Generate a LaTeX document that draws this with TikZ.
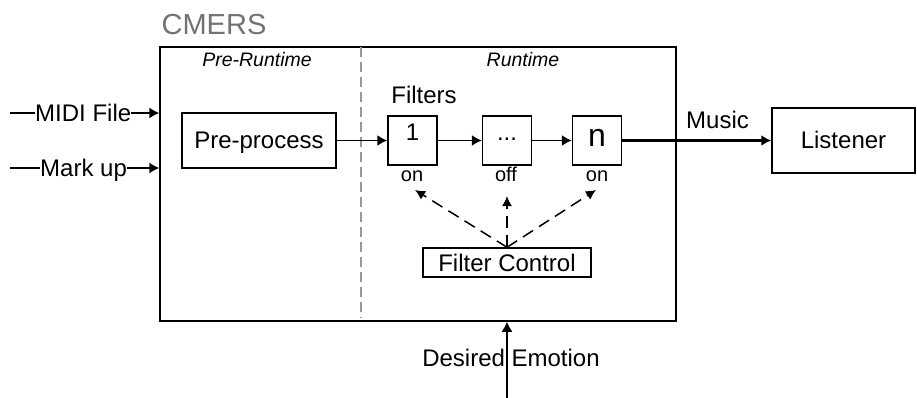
\documentclass[tikz,border=0pt]{standalone}
\usepackage{fontspec}
\setmainfont{Liberation Sans}
\usetikzlibrary{arrows.meta}

\begin{document}
\begin{tikzpicture}
            [x=1pt, y=-1pt,
              box/.style={draw, line width=1.5pt, inner sep=0pt,
                text height=17pt, text depth=0pt,
                font=\fontsize{24}{28}\selectfont},
              fbox/.style={box, minimum width=49pt, minimum height=49pt},
              lbl/.style={inner sep=0pt, text height=17pt, text depth=0pt,
                font=\fontsize{24}{28}\selectfont},
              sml/.style={inner sep=0pt, anchor=base,
                font=\fontsize{20}{24}\selectfont},
              phase/.style={inner sep=0pt, font=\fontsize{19.5}{23}\selectfont\itshape},
              ->/.style={line width=1.5pt, arrows={-{Latex[length=10pt,width=11pt]}}},
              ctrl/.style={line width=1.5pt, dash pattern=on 12pt off 7pt,
                arrows={-{Latex[length=10pt,width=10pt]}}}]
            \useasboundingbox (0,0) rectangle (917,398);
            \node[box, minimum width=516pt, minimum height=274pt] (cmers) at (418,184) {};
            \node[inner sep=0pt, text=black!55, font=\fontsize{29}{34}\selectfont] (title) at (214,25) {CMERS};
            \node[phase] (prert) at (257,60) {Pre-Runtime};
            \node[phase] (rt) at (523,60) {Runtime};
            \coordinate (dtop) at (361,47);
            \coordinate (dbot) at (361,318);
            \draw[black!40, line width=1.5pt, dash pattern=on 10pt off 5pt] (dtop) -- (dbot);
            \coordinate (in1) at (10,113);
            \coordinate (in2) at (10,168);
            \node[lbl, anchor=west] (midi) at (35,113) {MIDI File};
            \node[lbl, anchor=west] (mark) at (40,168) {Mark up};
            \node[box, minimum width=154pt, minimum height=55pt] (pp) at (259,140.5) {Pre-process};
            \node[lbl] (filters) at (424,95) {Filters};
            \node[fbox, text depth=17pt] (f1) at (412.5,140.5) {1};
            \node[fbox, text depth=17pt] (fd) at (507,140.5) {...};
            \node[fbox, text depth=4pt, font=\fontsize{32}{36}\selectfont] (fn) at (597,140.5) {n};
            \node[sml] (on1) at (412,182) {on};
            \node[sml] (off) at (506,182) {off};
            \node[sml] (on2) at (597,182) {on};
            \node[box, minimum width=168pt, minimum height=29pt] (fc) at (507,262.5) {Filter Control};
            \node[box, minimum width=143pt, minimum height=65pt] (lis) at (843.5,140.5) {Listener};
            \node[lbl] (music) at (717.5,120.5) {Music};
            \coordinate (de) at (507,398);
            \coordinate (c1) at (415,190);
            \coordinate (c2) at (507,196);
            \coordinate (c3) at (596,190);
            \draw[line width=1.5pt] (in1) -- (midi.west);
            \draw[line width=1.5pt] (in2) -- (mark.west);
            \draw[->] (midi.east) -- (midi.east -| cmers.west);
            \draw[->] (mark.east) -- (mark.east -| cmers.west);
            \draw[->] (pp) -- (f1);
            \draw[->] (f1) -- (fd);
            \draw[->] (fd) -- (fn);
            \draw[->, line width=2.2pt] (fn) -- (lis);
            \draw[ctrl] (fc.north) -- (c1);
            \draw[ctrl] (fc.north) -- (c2);
            \draw[ctrl] (fc.north) -- (c3);
            \draw[->] (de) -- (de |- cmers.south);
            \node[lbl] (emo) at (511,358) {Desired Emotion};
        \end{tikzpicture}
\end{document}
